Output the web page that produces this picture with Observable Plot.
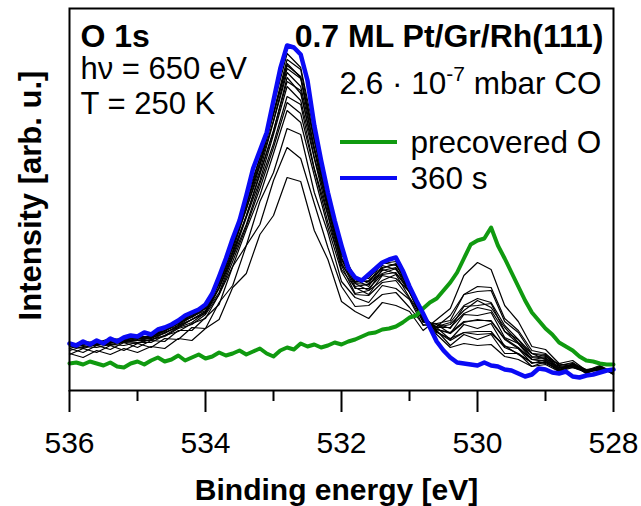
<!DOCTYPE html>
<html><head><meta charset="utf-8">
<script src="https://cdn.jsdelivr.net/npm/d3@7"></script>
<script src="https://cdn.jsdelivr.net/npm/@observablehq/plot@0.6"></script>
<style>html,body{margin:0;padding:0;background:#fff}svg{display:block}</style>
</head><body><div id="chart"></div>
<script>
// Binding energy grids (eV)
const energyFine = [536.0,535.9,535.8,535.7,535.6,535.5,535.4,535.3,535.2,535.1,
535.0,534.9,534.8,534.7,534.6,534.5,534.4,534.3,534.2,534.1,
534.0,533.9,533.8,533.7,533.6,533.5,533.4,533.3,533.2,533.1,
533.0,532.9,532.8,532.7,532.6,532.5,532.4,532.3,532.2,532.1,
532.0,531.9,531.8,531.7,531.6,531.5,531.4,531.3,531.2,531.1,
531.0,530.9,530.8,530.7,530.6,530.5,530.4,530.3,530.2,530.1,
530.0,529.9,529.8,529.7,529.6,529.5,529.4,529.3,529.2,529.1,
529.0,528.9,528.8,528.7,528.6,528.5,528.4,528.3,528.2,528.1,
528.0];
const energyCoarse = [536.0,535.8,535.6,535.4,535.2,535.0,534.8,534.6,534.4,534.2,
534.0,533.8,533.6,533.4,533.2,533.0,532.8,532.6,532.4,532.2,
532.0,531.8,531.6,531.4,531.2,531.0,530.8,530.6,530.4,530.2,
530.0,529.8,529.6,529.4,529.2,529.0,528.8,528.6,528.4,528.2,
528.0];

// Intensities (arb. u.)
const spectrum360s = [47,45,49,46,50,47,52,49,53,55, 54,58,56,61,63,66,70,75,78,81,
86,97,114,132,152,170,195,222,240,258, 290,322,345,343,336,310,265,230,198,170,
145,122,113,110,116,122,128,131,133,120, 104,90,77,63,49,40,33,28,27,26,
25,28,25,24,21,20,17,14,16,22, 21,18,17,19,14,13,15,16,18,20, 21];
const spectrumPrecoveredO = [27,28,26,29,27,25,28,24,23,27, 29,26,30,33,29,31,35,30,33,36,
32,34,38,35,37,40,36,39,42,37, 34,40,43,41,47,44,46,43,45,48,
46,49,51,54,57,58,61,62,64,68, 73,75,82,88,92,100,108,118,132,146,
150,152,163,145,132,118,104,90,78,70, 62,56,48,44,40,34,30,29,27,26, 26];

// intermediate spectra (CO exposure series)
const black01 = [37,33,40,36,42,38,44,42,52,50, 62,71,103,117,156,175,213,209,160,131, 89,79,72,88,85,79,60,71,82,115, 128,121,85,69,44,41,27,30,20,25, 18];
const black02 = [36,42,38,45,40,47,43,52,51,63, 62,88,105,145,166,210,243,232,187,143, 104,84,85,96,98,83,66,64,75,96, 104,103,72,60,40,37,25,28,19,24, 17];
const black03 = [42,38,45,41,48,43,50,49,60,60, 73,86,124,145,189,218,262,256,198,158, 109,93,88,105,102,91,65,67,70,96, 99,100,69,58,37,36,25,27,21,23, 18];
const black04 = [40,44,43,46,45,48,48,55,59,67, 72,96,124,161,195,237,280,268,215,163, 119,96,95,108,110,92,69,64,68,85, 92,88,65,51,37,34,26,25,19,23, 17];
const black05 = [45,43,46,46,49,48,51,55,63,68, 78,98,133,166,207,247,294,286,222,175, 121,103,96,115,112,99,68,67,62,84, 85,87,59,51,33,35,22,26,18,24, 16];
const black06 = [42,46,45,48,48,50,50,58,63,71, 77,102,134,173,210,256,304,290,232,176, 128,102,102,116,118,98,71,63,63,77, 83,80,59,47,34,32,24,25,20,22, 18];
const black07 = [45,45,47,47,50,50,53,57,65,71, 79,103,138,175,217,260,309,300,233,184, 126,107,100,121,117,102,69,66,57,76, 75,78,53,47,31,33,21,27,18,23, 17];
const black08 = [44,47,46,50,49,52,52,60,65,74, 80,106,140,182,220,269,318,304,243,185, 133,107,106,120,123,101,73,61,57,68, 71,69,51,42,31,30,23,25,19,21, 18];
const black09 = [46,46,48,49,52,51,54,59,68,73, 82,107,144,181,225,270,322,312,242,191, 131,111,104,125,121,105,70,63,51,66, 62,67,44,42,27,31,20,26,17,24, 16];
const black10 = [44,48,47,51,50,53,53,62,66,76, 82,109,143,187,226,277,327,313,250,190, 137,109,109,123,126,103,73,59,50,58, 59,59,43,37,28,28,21,24,19,22, 18];
const black11 = [47,47,49,49,53,52,55,60,69,75, 84,110,148,186,233,278,331,321,251,196, 136,114,107,128,125,107,70,60,45,56, 51,56,37,37,24,29,19,26,17,23, 17];
const black12 = [45,49,48,52,51,54,54,63,68,77, 84,112,147,192,233,285,337,323,258,195, 141,112,112,127,129,104,72,56,43,47, 45,46,34,31,24,26,19,23,18,21, 18];
const black13 = [44,42,46,45,48,47,51,54,62,66, 76,96,129,164,202,243,288,277,221,168, 125,97,100,110,116,93,73,63,66,80, 90,83,63,48,37,31,27,23,21,20, 19];
const black14 = [45,46,46,48,49,50,52,58,64,71, 79,103,137,174,216,259,313,297,240,180, 131,104,106,117,122,98,75,61,58,69, 70,70,52,43,31,29,23,24,19,21, 18];
const black15 = [46,47,48,50,51,52,54,60,67,74, 83,108,145,185,229,276,325,314,251,189, 138,108,110,122,127,101,74,58,52,58, 56,57,45,36,28,27,21,23,19,20, 19];
const blackSpectra = [black01,black02,black03,black04,black05,black06,black07,black08,
  black09,black10,black11,black12,black13,black14,black15];

const majorTicks = [536,534,532,530,528];
const minorTicks = [535,533,531,529];
const xTitle = "Binding energy [eV]";
const yTitle = "Intensity [arb. u.]";
const legendLabels = ["precovered O","360 s"];
const pressureText = "2.6 · 10-7 mbar CO";

// Build tables
const blackRows = [];
blackSpectra.forEach((arr, k) => arr.forEach((v, i) => blackRows.push({e: energyCoarse[i], v, s: k})));
const blueRows = spectrum360s.map((v, i) => ({e: energyFine[i], v}));
const greenRows = spectrumPrecoveredO.map((v, i) => ({e: energyFine[i], v}));

const GREEN = "#109a10", BLUE = "#0a0af5";
const font = "'Liberation Sans', Arial, Helvetica, sans-serif";

const chart = Plot.plot({
  width: 641, height: 506,
  marginLeft: 69, marginRight: 28, marginTop: 8, marginBottom: 116,
  style: {fontFamily: font, fontSize: "30px", background: "#fff", color: "#000", overflow: "visible"},
  x: {domain: [536, 528]},
  y: {domain: [0, 382], axis: null},
  marks: [
    Plot.line(blackRows, {x: "e", y: "v", z: "s", stroke: "#000", strokeWidth: 1.2}),
    Plot.line(greenRows, {x: "e", y: "v", stroke: GREEN, strokeWidth: 4}),
    Plot.line(blueRows, {x: "e", y: "v", stroke: BLUE, strokeWidth: 4.5}),
    Plot.frame({stroke: "#000", strokeWidth: 2}),
    Plot.axisX({ticks: majorTicks, tickSize: 22, tickPadding: 19, tickFormat: d => String(d), label: null, fontSize: 30, strokeWidth: 2}),
    Plot.axisX({ticks: minorTicks, tickSize: 11, tickFormat: () => "", label: null, strokeWidth: 2}),
    Plot.text([xTitle], {frameAnchor: "bottom", dx: -5, dy: 109, textAnchor: "middle", lineAnchor: "bottom", fontWeight: "bold", fontSize: 30}),
    Plot.text([yTitle], {frameAnchor: "left", rotate: -90, dx: -29, dy: -4, textAnchor: "middle", lineAnchor: "bottom", fontWeight: "bold", fontSize: 31}),
    Plot.text(["O 1s"], {frameAnchor: "top-left", dx: 11, dy: 38, textAnchor: "start", lineAnchor: "bottom", fontWeight: "bold", fontSize: 32}),
    Plot.text(["hν = 650 eV"], {frameAnchor: "top-left", dx: 11, dy: 70, textAnchor: "start", lineAnchor: "bottom", fontSize: 31}),
    Plot.text(["T = 250 K"], {frameAnchor: "top-left", dx: 11, dy: 105, textAnchor: "start", lineAnchor: "bottom", fontSize: 31}),
    Plot.text(["0.7 ML Pt/Gr/Rh(111)"], {frameAnchor: "top-right", dx: -10, dy: 38, textAnchor: "end", lineAnchor: "bottom", fontWeight: "bold", fontSize: 32}),
    Plot.text([pressureText], {frameAnchor: "top-right", dx: -12, dy: 85, textAnchor: "end", lineAnchor: "bottom", fontSize: 31.5}),
    Plot.text([legendLabels[0]], {frameAnchor: "top-left", dx: 341, dy: 144, textAnchor: "start", lineAnchor: "bottom", fontSize: 31.5}),
    Plot.text([legendLabels[1]], {frameAnchor: "top-left", dx: 341, dy: 180, textAnchor: "start", lineAnchor: "bottom", fontSize: 31.5})
  ]
});
document.getElementById("chart").appendChild(chart);

// superscript in pressure label
d3.select(chart).selectAll("text").filter(function(){ return this.textContent === pressureText; }).each(function(){
  const t = d3.select(this);
  t.text(null);
  t.append("tspan").text("2.6 · 10");
  t.append("tspan").attr("dy", -13).attr("font-size", 21).text("-7");
  t.append("tspan").attr("dy", 13).text(" mbar CO");
});

// legend line samples
const svg = d3.select(chart);
const lg = svg.append("g").attr("stroke-width", 4);
lg.append("line").attr("x1", 340).attr("x2", 397).attr("y1", 142).attr("y2", 142).attr("stroke", GREEN);
lg.append("line").attr("x1", 340).attr("x2", 397).attr("y1", 178).attr("y2", 178).attr("stroke", BLUE);
</script>
</body></html>
